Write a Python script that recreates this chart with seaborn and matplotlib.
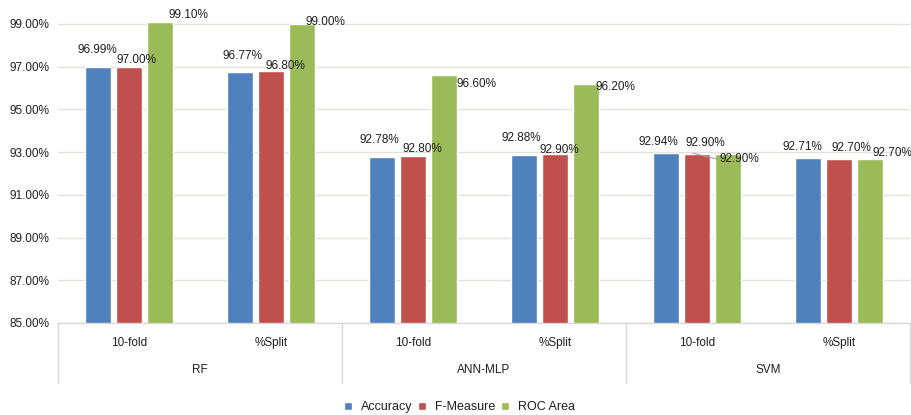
import numpy as np
import pandas as pd
import seaborn as sns
import matplotlib
matplotlib.use("Agg")
import matplotlib.pyplot as plt
from matplotlib.lines import Line2D
from matplotlib.transforms import blended_transform_factory, offset_copy

# ---- data -------------------------------------------------------------
models = ["RF", "ANN-MLP", "SVM"]
validations = ["10-fold", "%Split"]
metrics = ["Accuracy", "F-Measure", "ROC Area"]

accuracy = [96.99, 96.77, 92.78, 92.88, 92.94, 92.71]
f_measure = [97.00, 96.80, 92.80, 92.90, 92.90, 92.70]
roc_area = [99.10, 99.00, 96.60, 96.20, 92.90, 92.70]

y_ticks = [85, 87, 89, 91, 93, 95, 97, 99]

# ---- long-form table for seaborn --------------------------------------
cat_keys = [f"{m}|{v}" for m in models for v in validations]
rows = []
for metric, vals in zip(metrics, [accuracy, f_measure, roc_area]):
    for key, val in zip(cat_keys, vals):
        rows.append({"category": key, "metric": metric, "value": val})
df = pd.DataFrame(rows)

# ---- style ------------------------------------------------------------
sns.set_style("white")
plt.rcParams["font.family"] = ["Liberation Sans", "DejaVu Sans"]
TEXT = "#1f1f1f"
GRID = "#e2e2dc"
AXIS = "#d9d9d9"
FS = 8.5
palette = ["#4f81bd", "#c0504d", "#9bbb59"]

fig = plt.figure(figsize=(9.12, 4.15), dpi=100)
ax = fig.add_axes([0.0636, 0.2217, 0.9342, 0.772])

sns.barplot(data=df, x="category", y="value", hue="metric",
            order=cat_keys, hue_order=metrics, palette=palette,
            width=0.655, gap=0.19, saturation=1, ax=ax, errorbar=None)

ax.set_xlim(-0.5, len(cat_keys) - 0.5)
ax.set_ylim(85, 100)
ax.set_yticks(y_ticks)
ax.set_yticklabels([f"{t:.2f}%" for t in y_ticks], fontsize=FS, color=TEXT)
ax.tick_params(axis="y", length=0, pad=6)
ax.set_xticks([])
ax.set_xlabel("")
ax.set_ylabel("")
ax.yaxis.grid(True, color=GRID, lw=1)
ax.set_axisbelow(True)
for side in ["top", "right", "left"]:
    ax.spines[side].set_visible(False)
ax.spines["bottom"].set_color(AXIS)
ax.spines["bottom"].set_linewidth(1)

# ---- value labels (pixel offsets from each bar's top centre) -----------
label_offsets = {
    0: [(-1, 17), (3, 16), (-3, 17), (-3, 17), (-8, 11), (-6, 11)],
    1: [(7, 7), (14, 5), (9, 7), (4, 4), (8, 11), (12, 11)],
    2: [(28, 7), (23, 2), (32, -9), (29, -3), (11, -5), (22, 6)],
}
for j, cont in enumerate(ax.containers):
    vals = [accuracy, f_measure, roc_area][j]
    for i, bar in enumerate(cont):
        cx = bar.get_x() + bar.get_width() / 2
        dx, dy = label_offsets[j][i]
        ax.annotate(f"{vals[i]:.2f}%", xy=(cx, vals[i]), xytext=(dx, dy),
                    textcoords="offset pixels", ha="center", va="center",
                    fontsize=FS, color=TEXT)

# leader line for the SVM 10-fold ROC label
gbar = ax.containers[2][4]
gx = gbar.get_x() + gbar.get_width() / 2
start_t = offset_copy(ax.transData, fig=fig, x=-35, y=1, units="dots")
end_t = offset_copy(ax.transData, fig=fig, x=-10, y=-5, units="dots")
ax.annotate("", xy=(gx, roc_area[4]), xycoords=start_t,
            xytext=(gx, roc_area[4]), textcoords=end_t,
            arrowprops=dict(arrowstyle="-", color="#a6a6a6", lw=0.8,
                            shrinkA=0, shrinkB=0))

# ---- two-level category axis ------------------------------------------
xa = ax.get_xaxis_transform()
for i, key in enumerate(cat_keys):
    ax.annotate(key.split("|")[1], xy=(i, 0), xycoords=xa, xytext=(0, -20),
                textcoords="offset pixels", ha="center", va="center",
                fontsize=FS, color=TEXT)
for k, m in enumerate(models):
    ax.annotate(m, xy=(2 * k + 0.5, 0), xycoords=xa, xytext=(0, -47),
                textcoords="offset pixels", ha="center", va="center",
                fontsize=FS, color=TEXT)

sep_t = blended_transform_factory(ax.transData, ax.transAxes)
sep_len = 60 / (ax.get_window_extent().height)
for xs in [-0.5, 1.5, 3.5, 5.5]:
    ax.add_line(Line2D([xs, xs], [0, -sep_len], transform=sep_t,
                       color=AXIS, lw=1, clip_on=False))

# ---- legend -----------------------------------------------------------
handles, labels = ax.get_legend_handles_labels()
ax.get_legend().remove()
fig.legend(handles, labels, loc="center", bbox_to_anchor=(0.504, 0.019),
           ncol=3, frameon=False, fontsize=9, handlelength=0.65,
           handleheight=0.65, handletextpad=0.7, columnspacing=0.45,
           labelcolor=TEXT)

fig.savefig("out.png", dpi=100)
